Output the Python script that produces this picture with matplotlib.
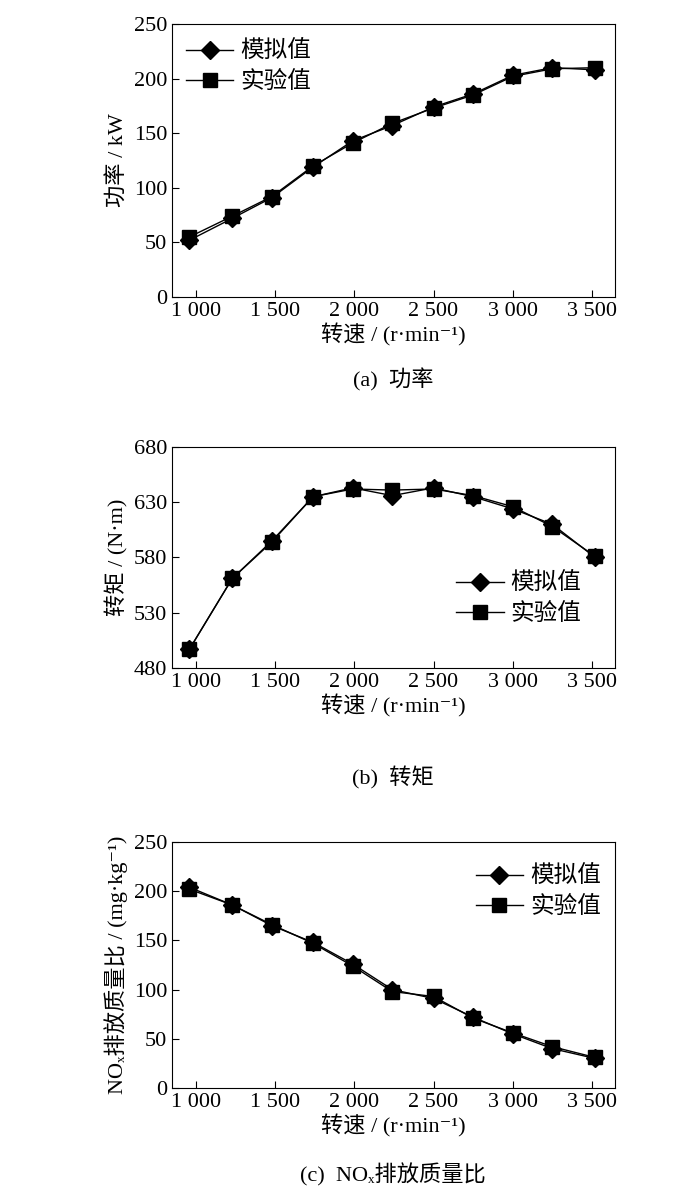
import matplotlib.pyplot as plt
from matplotlib.ticker import FuncFormatter

plt.rcParams['font.family'] = ['Liberation Serif', 'Noto Sans CJK SC', 'DejaVu Sans']
plt.rcParams['font.size'] = 14

speed = [960, 1230, 1480, 1740, 1990, 2240, 2500, 2750, 3000, 3250, 3520]

power_sim = [52, 72, 91, 119, 143, 157, 174, 186, 203, 210, 208]
power_exp = [55, 74, 92, 120, 141, 159, 173, 185, 202, 209, 210]

torque_sim = [497, 561, 595, 635, 643, 636, 643, 635, 624, 610, 580]
torque_exp = [497, 561, 594, 635, 642, 641, 642, 636, 626, 608, 581]

nox_sim = [204, 186, 165, 148, 126, 100, 91, 72, 55, 40, 30]
nox_exp = [202, 186, 166, 147, 124, 98, 93, 71, 56, 42, 31]

fmt = FuncFormatter(lambda v, p: f'{int(v):,}'.replace(',', ' '))

fig = plt.figure(figsize=(7, 12.02), dpi=100)
W, H = 700, 1202

panels = [
    (24, 297, power_sim, power_exp, (0, 250), range(0, 251, 50), '功率 / kW', '(a)  功率', 380,
     dict(loc='upper left', bbox_to_anchor=(0.0, 0.99))),
    (447, 668, torque_sim, torque_exp, (480, 680), range(480, 681, 50), '转矩 / (N·m)', '(b)  转矩', 778,
     dict(loc='lower left', bbox_to_anchor=(0.61, 0.13))),
    (842, 1088, nox_sim, nox_exp, (0, 250), range(0, 251, 50),
     'NOₓ排放质量比 / (mg·kg⁻¹)', '(c)  NOₓ排放质量比', 1175,
     dict(loc='upper right', bbox_to_anchor=(1.0, 0.96))),
]

for top, bot, sim, exp, ylim, yt, ylab, cap, cap_y, legkw in panels:
    ax = fig.add_axes([172 / W, 1 - bot / H, (615 - 172) / W, (bot - top) / H])
    ax.plot(speed, sim, color='black', lw=1, marker='D', ms=9, label='模拟值')
    ax.plot(speed, exp, color='black', lw=1, marker='s', ms=10, label='实验值')
    ax.set_xlim(850, 3645)
    ax.set_ylim(*ylim)
    ax.set_xticks(range(1000, 3501, 500))
    ax.xaxis.set_major_formatter(fmt)
    ax.set_yticks(list(yt))
    ax.tick_params(direction='in', length=5, labelsize=16)
    ax.set_xlabel('转速 / (r·min⁻¹)', fontsize=16, labelpad=2)
    ax.set_ylabel(ylab, fontsize=16, labelpad=4)
    ax.legend(frameon=False, fontsize=17, handlelength=2.0, handletextpad=0.3,
              borderaxespad=0.2, labelspacing=0.35, **legkw)
    fig.text(393 / W, 1 - cap_y / H, cap, ha='center', va='center', fontsize=16)

fig.savefig('out.png', dpi=100, facecolor='white')
